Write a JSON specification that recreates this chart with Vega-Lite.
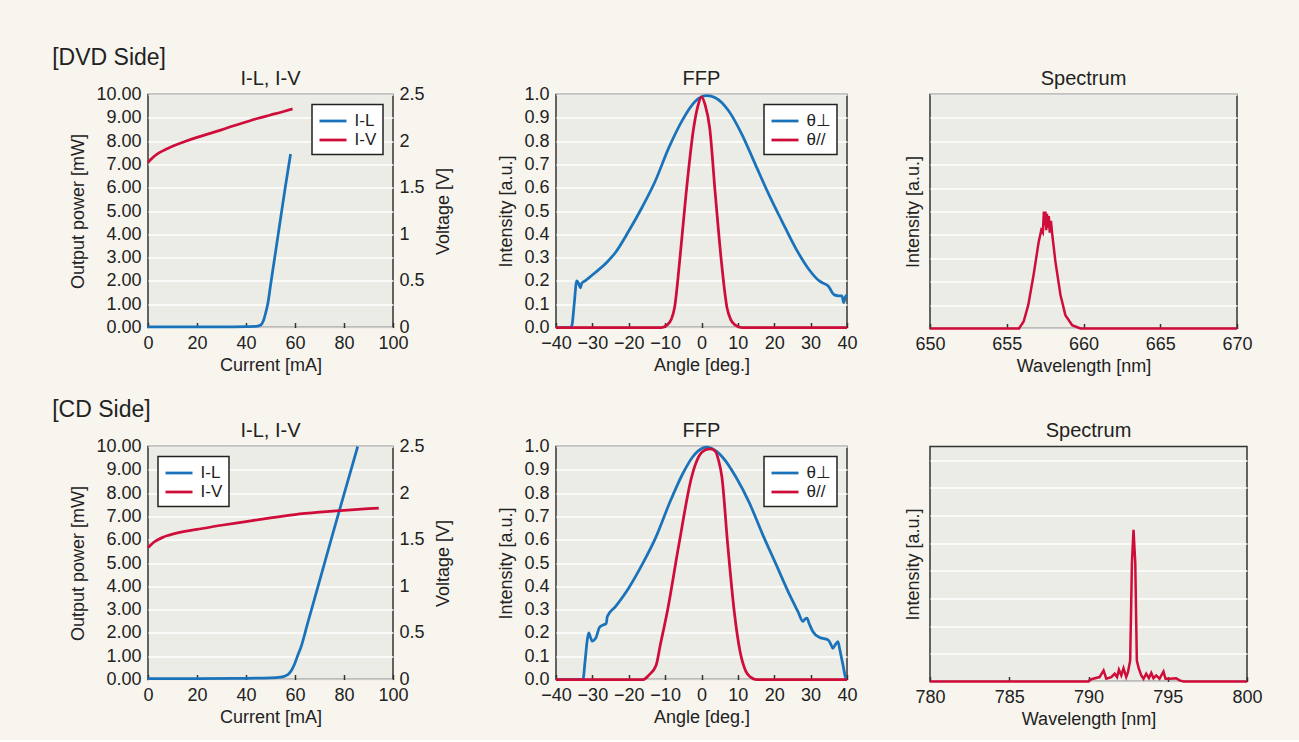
{
  "$schema": "https://vega.github.io/schema/vega-lite/v6.json",
  "background": "#f7f5ee",
  "padding": {"left": 52, "top": 46.5, "right": 36, "bottom": 10},
  "config": {
    "font": "Liberation Sans",
    "view": {"fill": "#ecece6", "stroke": "#333333", "strokeWidth": 1.5},
    "axis": {
      "labelFont": "Liberation Sans", "labelFontSize": 18, "labelColor": "#222222",
      "titleFont": "Liberation Sans", "titleFontSize": 18, "titleFontWeight": "normal", "titleColor": "#222222",
      "domain": false, "gridColor": "#ffffff", "gridWidth": 1.5, "gridOpacity": 1,
      "tickColor": "#333333", "tickWidth": 1.5, "labelFlush": false, "labelOverlap": false
    },
    "axisX": {"grid": false, "ticks": true, "tickSize": -5, "labelPadding": 12, "titlePadding": 4},
    "axisY": {"ticks": false, "labelPadding": 7, "titlePadding": 8},
    "legend": {
      "orient": "top-right", "offset": 10, "fillColor": "#ffffff", "strokeColor": "#222222", "strokeWidth": 1.5,
      "padding": 6, "symbolType": "M-1.5,0H1.5", "symbolSize": 324, "symbolStrokeWidth": 3, "symbolOffset": 4.5,
      "labelFont": "Liberation Sans", "labelFontSize": 17, "labelColor": "#222222", "labelOffset": 11, "rowPadding": 0
    },
    "title": {"fontSize": 20, "fontWeight": "normal", "color": "#222222", "offset": -3.5, "baseline": "alphabetic", "font": "Liberation Sans"},
    "line": {"strokeWidth": 2.75}
  },
  "datasets": {
    "il_dvd": [{"I":0,"P":0.03},{"I":10,"P":0.03},{"I":20,"P":0.03},{"I":30,"P":0.03},{"I":40,"P":0.04},{"I":44,"P":0.05},{"I":45.5,"P":0.08},{"I":46.5,"P":0.16},{"I":47.3,"P":0.35},{"I":48,"P":0.62},{"I":48.9,"P":1.02},{"I":50,"P":1.8},{"I":52,"P":3.2},{"I":54,"P":4.6},{"I":56,"P":6.0},{"I":58.2,"P":7.45}],
    "iv_dvd": [{"I":0,"V":1.77},{"I":1,"V":1.8},{"I":2,"V":1.825},{"I":4,"V":1.865},{"I":6,"V":1.895},{"I":8,"V":1.92},{"I":10,"V":1.945},{"I":15,"V":1.995},{"I":20,"V":2.04},{"I":25,"V":2.08},{"I":30,"V":2.12},{"I":35,"V":2.165},{"I":40,"V":2.205},{"I":45,"V":2.245},{"I":50,"V":2.28},{"I":55,"V":2.315},{"I":59,"V":2.345}],
    "il_cd": [{"I":0,"P":0.04},{"I":20,"P":0.04},{"I":40,"P":0.05},{"I":50,"P":0.07},{"I":54,"P":0.1},{"I":56,"P":0.15},{"I":57.5,"P":0.25},{"I":58.7,"P":0.42},{"I":59.7,"P":0.63},{"I":61,"P":1.0},{"I":62.4,"P":1.38},{"I":65,"P":2.35},{"I":70,"P":4.22},{"I":75,"P":6.1},{"I":80,"P":7.95},{"I":85.6,"P":10.0}],
    "iv_cd": [{"I":0,"V":1.415},{"I":1,"V":1.44},{"I":2,"V":1.465},{"I":3,"V":1.485},{"I":4,"V":1.5},{"I":6,"V":1.525},{"I":8,"V":1.545},{"I":10,"V":1.56},{"I":15,"V":1.59},{"I":20,"V":1.61},{"I":30,"V":1.655},{"I":40,"V":1.695},{"I":50,"V":1.735},{"I":60,"V":1.77},{"I":70,"V":1.795},{"I":80,"V":1.815},{"I":90,"V":1.833},{"I":94.2,"V":1.84}],
    "ffp_dvd": [
      {"a":-40,"v":0,"s":"θ⊥"},{"a":-36,"v":0,"s":"θ⊥"},{"a":-35.6,"v":0.01,"s":"θ⊥"},{"a":-35,"v":0.1,"s":"θ⊥"},{"a":-34.3,"v":0.2,"s":"θ⊥"},{"a":-33.8,"v":0.19,"s":"θ⊥"},{"a":-33.3,"v":0.17,"s":"θ⊥"},{"a":-32.9,"v":0.19,"s":"θ⊥"},{"a":-32,"v":0.2,"s":"θ⊥"},{"a":-29.2,"v":0.236,"s":"θ⊥"},{"a":-26,"v":0.28,"s":"θ⊥"},{"a":-23.7,"v":0.321,"s":"θ⊥"},{"a":-20,"v":0.414,"s":"θ⊥"},{"a":-16.4,"v":0.514,"s":"θ⊥"},{"a":-12.7,"v":0.629,"s":"θ⊥"},{"a":-9,"v":0.771,"s":"θ⊥"},{"a":-5.4,"v":0.886,"s":"θ⊥"},{"a":-1.7,"v":0.971,"s":"θ⊥"},{"a":1.5,"v":0.995,"s":"θ⊥"},{"a":3.8,"v":0.986,"s":"θ⊥"},{"a":7.5,"v":0.929,"s":"θ⊥"},{"a":11.1,"v":0.829,"s":"θ⊥"},{"a":14.8,"v":0.7,"s":"θ⊥"},{"a":18.5,"v":0.571,"s":"θ⊥"},{"a":22.1,"v":0.457,"s":"θ⊥"},{"a":25.8,"v":0.343,"s":"θ⊥"},{"a":29.5,"v":0.25,"s":"θ⊥"},{"a":32,"v":0.205,"s":"θ⊥"},{"a":33.1,"v":0.193,"s":"θ⊥"},{"a":34.5,"v":0.182,"s":"θ⊥"},{"a":35.2,"v":0.17,"s":"θ⊥"},{"a":35.9,"v":0.15,"s":"θ⊥"},{"a":36.5,"v":0.14,"s":"θ⊥"},{"a":37.7,"v":0.136,"s":"θ⊥"},{"a":38.6,"v":0.136,"s":"θ⊥"},{"a":39.1,"v":0.107,"s":"θ⊥"},{"a":39.5,"v":0.13,"s":"θ⊥"},{"a":40,"v":0.14,"s":"θ⊥"},
      {"a":-40,"v":0,"s":"θ//"},{"a":-11,"v":0,"s":"θ//"},{"a":-9.5,"v":0.01,"s":"θ//"},{"a":-8.3,"v":0.035,"s":"θ//"},{"a":-7.4,"v":0.086,"s":"θ//"},{"a":-6,"v":0.286,"s":"θ//"},{"a":-4.26,"v":0.571,"s":"θ//"},{"a":-2.15,"v":0.857,"s":"θ//"},{"a":-1,"v":0.95,"s":"θ//"},{"a":0,"v":0.99,"s":"θ//"},{"a":1,"v":0.955,"s":"θ//"},{"a":2.25,"v":0.857,"s":"θ//"},{"a":3.8,"v":0.571,"s":"θ//"},{"a":5.45,"v":0.286,"s":"θ//"},{"a":7,"v":0.086,"s":"θ//"},{"a":8,"v":0.035,"s":"θ//"},{"a":9.3,"v":0.01,"s":"θ//"},{"a":11,"v":0,"s":"θ//"},{"a":40,"v":0,"s":"θ//"}
    ],
    "ffp_cd": [
      {"a":-40,"v":0,"s":"θ⊥"},{"a":-32.6,"v":0,"s":"θ⊥"},{"a":-32,"v":0.08,"s":"θ⊥"},{"a":-31.4,"v":0.17,"s":"θ⊥"},{"a":-31,"v":0.2,"s":"θ⊥"},{"a":-30.5,"v":0.18,"s":"θ⊥"},{"a":-30.1,"v":0.165,"s":"θ⊥"},{"a":-29.1,"v":0.177,"s":"θ⊥"},{"a":-28,"v":0.225,"s":"θ⊥"},{"a":-26.9,"v":0.235,"s":"θ⊥"},{"a":-26.2,"v":0.24,"s":"θ⊥"},{"a":-25.9,"v":0.27,"s":"θ⊥"},{"a":-23.6,"v":0.314,"s":"θ⊥"},{"a":-20,"v":0.393,"s":"θ⊥"},{"a":-16.3,"v":0.494,"s":"θ⊥"},{"a":-12.6,"v":0.609,"s":"θ⊥"},{"a":-8.9,"v":0.753,"s":"θ⊥"},{"a":-5.2,"v":0.882,"s":"θ⊥"},{"a":-2.5,"v":0.954,"s":"θ⊥"},{"a":0.3,"v":0.993,"s":"θ⊥"},{"a":1.5,"v":0.997,"s":"θ⊥"},{"a":3,"v":0.99,"s":"θ⊥"},{"a":5.8,"v":0.954,"s":"θ⊥"},{"a":9.5,"v":0.868,"s":"θ⊥"},{"a":13.1,"v":0.76,"s":"θ⊥"},{"a":16.8,"v":0.623,"s":"θ⊥"},{"a":20.5,"v":0.494,"s":"θ⊥"},{"a":24.2,"v":0.364,"s":"θ⊥"},{"a":26.5,"v":0.292,"s":"θ⊥"},{"a":27.9,"v":0.249,"s":"θ⊥"},{"a":28.5,"v":0.26,"s":"θ⊥"},{"a":29,"v":0.263,"s":"θ⊥"},{"a":29.6,"v":0.24,"s":"θ⊥"},{"a":30.6,"v":0.206,"s":"θ⊥"},{"a":32.5,"v":0.18,"s":"θ⊥"},{"a":34.8,"v":0.17,"s":"θ⊥"},{"a":35.6,"v":0.15,"s":"θ⊥"},{"a":36.1,"v":0.134,"s":"θ⊥"},{"a":36.8,"v":0.15,"s":"θ⊥"},{"a":37.5,"v":0.163,"s":"θ⊥"},{"a":38,"v":0.13,"s":"θ⊥"},{"a":38.9,"v":0.062,"s":"θ⊥"},{"a":39.8,"v":0,"s":"θ⊥"},{"a":40,"v":0,"s":"θ⊥"},
      {"a":-40,"v":0,"s":"θ//"},{"a":-16,"v":0,"s":"θ//"},{"a":-14.4,"v":0.02,"s":"θ//"},{"a":-12.5,"v":0.06,"s":"θ//"},{"a":-11.3,"v":0.15,"s":"θ//"},{"a":-9.4,"v":0.292,"s":"θ//"},{"a":-6.2,"v":0.58,"s":"θ//"},{"a":-2.7,"v":0.87,"s":"θ//"},{"a":-0.8,"v":0.955,"s":"θ//"},{"a":1,"v":0.985,"s":"θ//"},{"a":2.5,"v":0.99,"s":"θ//"},{"a":3.8,"v":0.98,"s":"θ//"},{"a":4.7,"v":0.94,"s":"θ//"},{"a":5.6,"v":0.87,"s":"θ//"},{"a":7.2,"v":0.58,"s":"θ//"},{"a":9,"v":0.292,"s":"θ//"},{"a":10.6,"v":0.12,"s":"θ//"},{"a":12.2,"v":0.035,"s":"θ//"},{"a":13.5,"v":0.01,"s":"θ//"},{"a":15,"v":0,"s":"θ//"},{"a":40,"v":0,"s":"θ//"}
    ],
    "sp_dvd": [{"w":650,"v":0},{"w":655.8,"v":0},{"w":656.1,"v":0.03},{"w":656.4,"v":0.1},{"w":656.75,"v":0.23},{"w":657.08,"v":0.37},{"w":657.25,"v":0.42},{"w":657.35,"v":0.41},{"w":657.42,"v":0.5},{"w":657.47,"v":0.44},{"w":657.52,"v":0.5},{"w":657.57,"v":0.42},{"w":657.62,"v":0.49},{"w":657.68,"v":0.43},{"w":657.74,"v":0.48},{"w":657.8,"v":0.41},{"w":657.88,"v":0.46},{"w":657.95,"v":0.41},{"w":658.17,"v":0.286},{"w":658.5,"v":0.143},{"w":658.82,"v":0.057},{"w":659.26,"v":0.014},{"w":659.8,"v":0},{"w":670,"v":0}],
    "sp_cd": [{"w":780,"v":0},{"w":790,"v":0},{"w":790.07,"v":0.05},{"w":790.28,"v":0.1},{"w":790.7,"v":0.16},{"w":790.95,"v":0.4},{"w":791.12,"v":0.1},{"w":791.44,"v":0.16},{"w":791.65,"v":0.28},{"w":791.8,"v":0.16},{"w":791.92,"v":0.43},{"w":792.07,"v":0.22},{"w":792.21,"v":0.48},{"w":792.38,"v":0.16},{"w":792.49,"v":0.34},{"w":792.63,"v":0.76},{"w":792.74,"v":4.3},{"w":792.84,"v":5.49},{"w":792.95,"v":4.3},{"w":793.05,"v":0.76},{"w":793.18,"v":0.46},{"w":793.33,"v":0.22},{"w":793.47,"v":0.1},{"w":793.64,"v":0.28},{"w":793.81,"v":0.12},{"w":793.96,"v":0.31},{"w":794.1,"v":0.12},{"w":794.27,"v":0.22},{"w":794.48,"v":0.1},{"w":794.73,"v":0.36},{"w":794.86,"v":0.1},{"w":795.11,"v":0.1},{"w":795.53,"v":0.12},{"w":795.74,"v":0.04},{"w":796,"v":0},{"w":800,"v":0}]
  },
  "spacing": 22,
  "resolve": {"scale": {"color": "independent"}, "legend": {"color": "independent"}},
  "vconcat": [
    {
      "title": {"text": "[DVD Side]", "anchor": "start", "fontSize": 23, "dx": -17, "offset": -20.5, "baseline": "alphabetic"},
      "spacing": 44,
      "resolve": {"scale": {"color": "independent"}, "legend": {"color": "independent"}},
      "hconcat": [
        {
          "title": {"text": "I-L, I-V"},
          "width": 245, "height": 233,
          "layer": [
            {
              "data": {"name": "il_dvd"},
              "mark": {"type": "line", "interpolate": "monotone"},
              "encoding": {
                "x": {"field": "I", "type": "quantitative", "scale": {"domain": [0, 100]}, "axis": {"values": [0, 20, 40, 60, 80, 100], "title": "Current [mA]"}},
                "y": {"field": "P", "type": "quantitative", "scale": {"domain": [0, 10]}, "axis": {"values": [0,1,2,3,4,5,6,7,8,9,10], "format": ".2f", "title": "Output power [mW]", "grid": true}},
                "color": {"datum": "I-L", "type": "nominal", "scale": {"domain": ["I-L", "I-V"], "range": ["#1a73ba", "#cf0d3a"]}, "legend": {"title": null}}
              }
            },
            {
              "data": {"name": "iv_dvd"},
              "mark": {"type": "line", "interpolate": "monotone"},
              "encoding": {
                "x": {"field": "I", "type": "quantitative", "scale": {"domain": [0, 100]}, "axis": {"values": [0, 20, 40, 60, 80, 100], "title": "Current [mA]"}},
                "y": {"field": "V", "type": "quantitative", "scale": {"domain": [0, 2.5]}, "axis": {"orient": "right", "values": [0, 0.5, 1, 1.5, 2, 2.5], "format": "~g", "title": "Voltage [V]", "grid": false, "titleAngle": 270, "titleBaseline": "top", "titlePadding": 10, "labelPadding": 6}},
                "color": {"datum": "I-V", "type": "nominal", "scale": {"domain": ["I-L", "I-V"], "range": ["#1a73ba", "#cf0d3a"]}, "legend": {"title": null}}
              }
            }
          ],
          "resolve": {"scale": {"y": "independent"}}
        },
        {
          "spacing": 45,
          "resolve": {"scale": {"color": "independent"}, "legend": {"color": "independent"}},
          "hconcat": [
            {
              "title": {"text": "FFP"},
              "width": 291, "height": 233,
              "data": {"name": "ffp_dvd"},
              "mark": {"type": "line", "interpolate": "monotone"},
              "encoding": {
                "x": {"field": "a", "type": "quantitative", "scale": {"domain": [-40, 40]}, "axis": {"values": [-40,-30,-20,-10,0,10,20,30,40], "title": "Angle [deg.]"}},
                "y": {"field": "v", "type": "quantitative", "scale": {"domain": [0, 1]}, "axis": {"values": [0,0.1,0.2,0.3,0.4,0.5,0.6,0.7,0.8,0.9,1], "format": ".1f", "title": "Intensity [a.u.]", "grid": true}},
                "color": {"field": "s", "type": "nominal", "scale": {"domain": ["θ⊥", "θ//"], "range": ["#1a73ba", "#cf0d3a"]}, "legend": {"title": null}}
              }
            },
            {
              "title": {"text": "Spectrum", "offset": 6},
              "width": 307, "height": 234,
              "data": {"name": "sp_dvd"},
              "mark": {"type": "line", "color": "#cf0d3a", "strokeWidth": 2.5},
              "encoding": {
                "x": {"field": "w", "type": "quantitative", "scale": {"domain": [650, 670]}, "axis": {"values": [650, 655, 660, 665, 670], "title": "Wavelength [nm]"}},
                "y": {"field": "v", "type": "quantitative", "scale": {"domain": [0, 1]}, "axis": {"values": [0,0.1,0.2,0.3,0.4,0.5,0.6,0.7,0.8,0.9,1], "labels": false, "title": "Intensity [a.u.]", "grid": true}}
              }
            }
          ]
        }
      ]
    },
    {
      "title": {"text": "[CD Side]", "anchor": "start", "fontSize": 23, "dx": -17, "offset": -20.5, "baseline": "alphabetic"},
      "spacing": 44,
      "resolve": {"scale": {"color": "independent"}, "legend": {"color": "independent"}},
      "hconcat": [
        {
          "title": {"text": "I-L, I-V"},
          "width": 245, "height": 233,
          "layer": [
            {
              "data": {"name": "il_cd"},
              "mark": {"type": "line", "interpolate": "monotone"},
              "encoding": {
                "x": {"field": "I", "type": "quantitative", "scale": {"domain": [0, 100]}, "axis": {"values": [0, 20, 40, 60, 80, 100], "title": "Current [mA]"}},
                "y": {"field": "P", "type": "quantitative", "scale": {"domain": [0, 10]}, "axis": {"values": [0,1,2,3,4,5,6,7,8,9,10], "format": ".2f", "title": "Output power [mW]", "grid": true}},
                "color": {"datum": "I-L", "type": "nominal", "scale": {"domain": ["I-L", "I-V"], "range": ["#1a73ba", "#cf0d3a"]}, "legend": {"title": null, "orient": "top-left"}}
              }
            },
            {
              "data": {"name": "iv_cd"},
              "mark": {"type": "line", "interpolate": "monotone"},
              "encoding": {
                "x": {"field": "I", "type": "quantitative", "scale": {"domain": [0, 100]}, "axis": {"values": [0, 20, 40, 60, 80, 100], "title": "Current [mA]"}},
                "y": {"field": "V", "type": "quantitative", "scale": {"domain": [0, 2.5]}, "axis": {"orient": "right", "values": [0, 0.5, 1, 1.5, 2, 2.5], "format": "~g", "title": "Voltage [V]", "grid": false, "titleAngle": 270, "titleBaseline": "top", "titlePadding": 10, "labelPadding": 6}},
                "color": {"datum": "I-V", "type": "nominal", "scale": {"domain": ["I-L", "I-V"], "range": ["#1a73ba", "#cf0d3a"]}, "legend": {"title": null, "orient": "top-left"}}
              }
            }
          ],
          "resolve": {"scale": {"y": "independent"}}
        },
        {
          "spacing": 45,
          "resolve": {"scale": {"color": "independent"}, "legend": {"color": "independent"}},
          "hconcat": [
            {
              "title": {"text": "FFP"},
              "width": 291, "height": 233,
              "data": {"name": "ffp_cd"},
              "mark": {"type": "line", "interpolate": "monotone"},
              "encoding": {
                "x": {"field": "a", "type": "quantitative", "scale": {"domain": [-40, 40]}, "axis": {"values": [-40,-30,-20,-10,0,10,20,30,40], "title": "Angle [deg.]"}},
                "y": {"field": "v", "type": "quantitative", "scale": {"domain": [0, 1]}, "axis": {"values": [0,0.1,0.2,0.3,0.4,0.5,0.6,0.7,0.8,0.9,1], "format": ".1f", "title": "Intensity [a.u.]", "grid": true}},
                "color": {"field": "s", "type": "nominal", "scale": {"domain": ["θ⊥", "θ//"], "range": ["#1a73ba", "#cf0d3a"]}, "legend": {"title": null}}
              }
            },
            {
              "title": {"text": "Spectrum", "offset": 6},
              "width": 317, "height": 235,
              "data": {"name": "sp_cd"},
              "mark": {"type": "line", "color": "#cf0d3a", "strokeWidth": 2.5},
              "encoding": {
                "x": {"field": "w", "type": "quantitative", "scale": {"domain": [780, 800]}, "axis": {"values": [780, 785, 790, 795, 800], "title": "Wavelength [nm]"}},
                "y": {"field": "v", "type": "quantitative", "scale": {"domain": [0, 8.5]}, "axis": {"values": [0,1,2,3,4,5,6,7,8], "labels": false, "title": "Intensity [a.u.]", "grid": true}}
              }
            }
          ]
        }
      ]
    }
  ]
}
